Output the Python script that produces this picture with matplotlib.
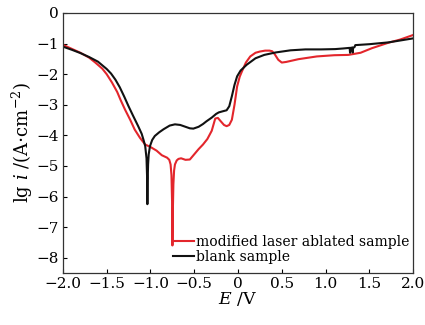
import matplotlib
matplotlib.use('Agg')
import matplotlib.pyplot as plt

# polarization curves
e_blank = [-2.0, -1.9, -1.8, -1.7, -1.6, -1.5, -1.45, -1.4, -1.35, -1.3, -1.25, -1.2, -1.14,
           -1.1, -1.08, -1.06, -1.045, -1.038, -1.035, -1.032, -1.027, -1.02, -1.005,
           -0.98, -0.95, -0.9, -0.85, -0.78, -0.72, -0.66, -0.6, -0.55, -0.51, -0.45,
           -0.4, -0.36, -0.3, -0.25, -0.22, -0.17, -0.13, -0.1, -0.07, -0.04, -0.01,
           0.03, 0.1, 0.2, 0.3, 0.43, 0.6, 0.77, 0.95, 1.11, 1.2, 1.275, 1.28, 1.285,
           1.305, 1.31, 1.315, 1.33, 1.34, 1.5, 1.72, 1.85, 2.0]
lg_blank = [-1.10, -1.20, -1.31, -1.44, -1.59, -1.83, -1.98, -2.18, -2.43, -2.73, -3.05,
            -3.35, -3.70, -3.95, -4.14, -4.35, -4.75, -5.4, -6.25, -5.5, -4.95, -4.62,
            -4.35, -4.15, -4.02, -3.90, -3.80, -3.68, -3.64, -3.66, -3.72, -3.77, -3.78,
            -3.72, -3.63, -3.54, -3.42, -3.30, -3.25, -3.21, -3.18, -3.05, -2.72, -2.35,
            -2.07, -1.88, -1.69, -1.48, -1.37, -1.29, -1.22, -1.19, -1.19, -1.18, -1.16,
            -1.14, -1.30, -1.14, -1.13, -1.29, -1.13, -1.12, -1.05, -1.02, -0.96, -0.9,
            -0.83]

e_mod = [-2.0, -1.9, -1.8, -1.7, -1.63, -1.55, -1.5, -1.44, -1.38, -1.34, -1.29, -1.23,
         -1.18, -1.12, -1.06, -1.0, -0.93, -0.87, -0.81, -0.785, -0.77, -0.76, -0.752,
         -0.749, -0.745, -0.738, -0.73, -0.72, -0.7, -0.68, -0.65, -0.6, -0.55, -0.5,
         -0.45, -0.4, -0.35, -0.3, -0.26, -0.23, -0.2, -0.16, -0.13, -0.1, -0.07, -0.04,
         -0.01, 0.02, 0.045, 0.09, 0.14, 0.2, 0.25, 0.31, 0.36, 0.39, 0.42, 0.46, 0.5,
         0.55, 0.69, 0.9, 1.1, 1.26, 1.4, 1.53, 1.72, 1.85, 2.0]
lg_mod = [-1.04, -1.17, -1.30, -1.46, -1.62, -1.82, -2.00, -2.27, -2.58, -2.85, -3.16,
          -3.50, -3.81, -4.08, -4.30, -4.38, -4.50, -4.65, -4.73, -4.80, -4.95, -5.3,
          -6.3, -7.6, -6.6, -5.6, -5.15, -4.95, -4.82, -4.77, -4.75, -4.80, -4.79, -4.62,
          -4.45, -4.30, -4.12, -3.85, -3.45, -3.43, -3.53, -3.66, -3.70, -3.66, -3.49,
          -3.0, -2.40, -2.08, -1.91, -1.62, -1.42, -1.30, -1.26, -1.23, -1.23, -1.25,
          -1.35, -1.53, -1.62, -1.60, -1.51, -1.42, -1.38, -1.37, -1.30, -1.15, -0.97,
          -0.87, -0.72]

x_ticks = [-2.0, -1.5, -1.0, -0.5, 0, 0.5, 1.0, 1.5, 2.0]
x_tick_labels = ['\u22122.0', '\u22121.5', '\u22121.0', '\u22120.5', '0', '0.5', '1.0', '1.5', '2.0']
y_ticks = [0, -1, -2, -3, -4, -5, -6, -7, -8]

plt.rcParams['font.family'] = 'DejaVu Serif'
plt.rcParams['mathtext.fontset'] = 'dejavuserif'

fig = plt.figure(figsize=(4.25, 3.25), dpi=100)
ax = fig.add_axes([0.148, 0.16, 0.824, 0.8])
ax.plot(e_mod, lg_mod, color='#e3262c', lw=1.5, label='modified laser ablated sample')
ax.plot(e_blank, lg_blank, color='#111111', lw=1.5, label='blank sample')

ax.set_xlim(-2.0, 2.0)
ax.set_ylim(-8.5, 0)
ax.set_xticks(x_ticks)
ax.set_xticklabels(x_tick_labels)
ax.set_yticks(y_ticks)
ax.tick_params(direction='in', length=3, width=0.8, labelsize=11, pad=3)
for s in ax.spines.values():
    s.set_linewidth(0.9)
    s.set_color('#333333')

ax.set_xlabel(r'$E$ /V', fontsize=12.5, labelpad=-1)
ax.set_ylabel(r'lg $i$ /(A$\cdot$cm$^{-2}$)', fontsize=13, labelpad=1)

ax.legend(loc='lower right', bbox_to_anchor=(1.0, 0.02), frameon=False, fontsize=10,
          handlelength=1.5, handletextpad=0.1, labelspacing=0.05, borderpad=0.2,
          borderaxespad=0.1)

fig.savefig('out.png', dpi=100)
